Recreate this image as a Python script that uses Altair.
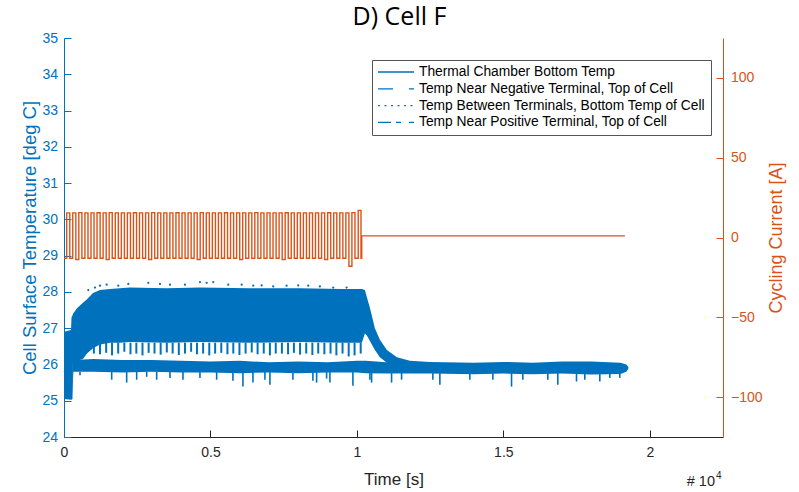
import altair as alt
import pandas as pd

BLUE = "#0072BD"
ORANGE = "#D95319"
DARK = "#262626"
FONT = "Liberation Sans"

# ---------------- data ----------------
# dense cycling band of the cell temperatures (upper / lower envelope)
band_t = [0, 239, 256, 290, 307, 444, 648, 785, 990, 1229, 1570, 1911, 2253, 3500,
          4642, 6348, 8055, 9500, 10171, 10273, 10341, 10444, 10614, 10785, 11024,
          11365, 11809, 12491]
band_hi = [26.9, 26.95, 27.3, 27.35, 27.4, 27.55, 27.7, 27.8, 27.97, 28.05, 28.08, 28.1,
           28.12, 28.1, 28.12, 28.1, 28.1, 28.08, 28.08, 28.05, 27.85, 27.56, 27.0,
           26.68, 26.4, 26.2, 26.1, 26.07]
band_lo = [25.05, 25.03, 25.03, 25.05, 26.1, 26.1, 26.15, 26.3, 26.45, 26.55, 26.6, 26.6,
           26.62, 26.6, 26.62, 26.6, 26.62, 26.6, 26.6, 26.85, 26.8, 26.65, 26.4, 26.2,
           26.05, 26.0, 26.0, 26.0]

# lower (chamber) trace envelope
low_t = [300, 1000, 2000, 3000, 4000, 5000, 6000, 7000, 8000, 9000, 10000, 10300,
         11000, 12500, 14000, 15000, 16000, 17000, 18000, 19000, 19200, 19270]
low_hi = [26.12, 26.15, 26.12, 26.12, 26.1, 26.08, 26.1, 26.06, 26.08, 26.06, 26.1,
          26.1, 26.06, 26.07, 26.05, 26.07, 26.05, 26.08, 26.08, 26.05, 26.0, 25.93]
low_lo = [25.8, 25.8, 25.78, 25.8, 25.78, 25.78, 25.76, 25.78, 25.76, 25.78, 25.78,
          25.76, 25.75, 25.75, 25.73, 25.75, 25.73, 25.75, 25.72, 25.74, 25.8, 25.88]

# teeth hanging under the band (one per cycle)
teeth_t = [820, 1020, 1230, 1440, 1640, 1850, 2060, 2270, 2470, 2680,
           2890, 3090, 3300, 3510, 3710, 3920, 4130, 4340, 4540, 4750,
           4960, 5160, 5370, 5580, 5780, 5990, 6200, 6410, 6610, 6820,
           7030, 7230, 7440, 7650, 7850, 8060, 8270, 8480, 8680, 8890,
           9100, 9300, 9510, 9720, 9920, 10130]
teeth_lo = [26.35, 26.30, 26.28, 26.32, 26.25, 26.30, 26.35, 26.28, 26.30, 26.25,
            26.32, 26.30, 26.27, 26.33, 26.30, 26.26, 26.30, 26.35, 26.28, 26.30,
            26.25, 26.30, 26.32, 26.28, 26.30, 26.26, 26.30, 26.33, 26.28, 26.30,
            26.25, 26.30, 26.30, 26.28, 26.32, 26.27, 26.30, 26.26, 26.30, 26.28,
            26.30, 26.25, 26.30, 26.22, 26.25, 26.30]
teeth_top = 26.6

# downward spikes of the chamber trace
spike_t = [546, 1628, 2140, 2481, 2823, 3164, 3618, 4062, 4642, 5212, 5768, 6109, 6451,
           6860, 7031, 7816, 8498, 8625, 8966, 9079, 9864, 10444, 10502, 11184, 11526,
           12594, 12833, 13857, 14642, 15280, 15666, 16519, 16860, 17498, 17782, 18294,
           18635, 18976]
spike_lo = [25.7, 25.58, 25.5, 25.58, 25.66, 25.58, 25.63, 25.58, 25.63, 25.58, 25.55,
            25.39, 25.5, 25.58, 25.44, 25.58, 25.55, 25.5, 25.61, 25.5, 25.41, 25.58,
            25.5, 25.5, 25.58, 25.58, 25.44, 25.58, 25.58, 25.39, 25.58, 25.58, 25.44,
            25.53, 25.58, 25.53, 25.63, 25.63]
spike_top = 25.8

# isolated samples just above the band
dots_t = [830, 1058, 1229, 1457, 1854, 2195, 2877, 3277, 3618, 4130, 4642, 4870, 5096,
          5607, 6065, 6461, 6748, 7143, 7600, 7997, 8338, 8737, 9191, 9649]
dots_v = [28.05, 28.12, 28.17, 28.2, 28.17, 28.22, 28.25, 28.22, 28.2, 28.2, 28.27,
          28.25, 28.27, 28.2, 28.2, 28.17, 28.18, 28.15, 28.17, 28.18, 28.17, 28.15,
          28.12, 28.12]

# mean path of each temperature series
series_names = ["Thermal Chamber Bottom Temp",
                "Temp Near Negative Terminal, Top of Cell",
                "Temp Between Terminals, Bottom Temp of Cell",
                "Temp Near Positive Terminal, Top of Cell"]
series_t = [0, 250, 320, 700, 1500, 3000, 5000, 7000, 9000, 10170, 10444, 10614, 10785,
            11024, 11365, 11809, 12500, 15000, 17500, 19250]
chamber = [25.1, 25.1, 25.95, 25.95, 25.95, 25.95, 25.93, 25.93, 25.92, 25.95, 25.95,
           25.93, 25.93, 25.92, 25.92, 25.92, 25.9, 25.9, 25.9, 25.9]
neg_term = [26.0, 26.2, 26.9, 27.3, 27.5, 27.5, 27.5, 27.5, 27.5, 27.5, 27.15, 26.75,
            26.45, 26.22, 26.1, 26.02, 25.95, 25.92, 25.92, 25.9]
between = [25.8, 26.0, 26.7, 27.1, 27.3, 27.3, 27.3, 27.3, 27.3, 27.2, 27.0, 26.65,
           26.4, 26.2, 26.08, 26.0, 25.93, 25.9, 25.9, 25.88]
pos_term = [25.9, 26.1, 26.8, 27.2, 27.4, 27.4, 27.4, 27.4, 27.4, 27.35, 27.1, 26.7,
            26.42, 26.21, 26.09, 26.01, 25.94, 25.91, 25.91, 25.89]

# cycling current: pulses (rise time, fall time, high level, low level after fall)
start_t, start_a = 0, -13.0
pulse_rise = [92, 299, 506, 714, 921, 1128, 1335, 1542, 1750, 1957,
              2164, 2371, 2578, 2786, 2993, 3200, 3407, 3614, 3822, 4029,
              4236, 4443, 4650, 4858, 5065, 5272, 5479, 5686, 5894, 6101,
              6308, 6515, 6722, 6930, 7137, 7344, 7551, 7758, 7966, 8173,
              8380, 8587, 8794, 9002, 9209, 9416, 9623, 9830, 10045]
pulse_fall = [197, 404, 611, 819, 1026, 1233, 1440, 1647, 1855, 2062,
              2269, 2476, 2683, 2891, 3098, 3305, 3512, 3719, 3927, 4134,
              4341, 4548, 4755, 4963, 5170, 5377, 5584, 5791, 5999, 6206,
              6413, 6620, 6827, 7035, 7242, 7449, 7656, 7863, 8071, 8278,
              8485, 8692, 8899, 9107, 9314, 9521, 9728, 9935, 10140]
pulse_high = [15.4, 15.4, 15.6, 15.4, 15.4, 15.5, 15.4, 15.6, 15.4, 15.4,
              15.4, 15.5, 15.4, 15.4, 15.6, 15.4, 15.4, 15.4, 15.5, 15.4,
              15.4, 15.4, 15.6, 15.4, 15.4, 15.4, 15.5, 15.4, 15.4, 15.4,
              15.4, 15.6, 15.4, 15.4, 15.4, 15.4, 15.5, 15.4, 15.4, 15.4,
              15.4, 15.4, 15.4, 15.5, 15.4, 15.4, 15.4, 15.6, 17.0]
pulse_low = [-13.0, -13.8, -13.0, -13.0, -13.0, -13.0, -13.8, -13.0, -13.0, -13.0,
             -13.0, -13.0, -13.0, -13.8, -13.0, -13.0, -13.0, -13.0, -13.0, -13.0,
             -13.0, -13.8, -13.0, -13.0, -13.0, -13.0, -13.0, -13.0, -13.8, -13.0,
             -13.0, -13.0, -13.0, -13.0, -13.0, -13.8, -13.0, -13.0, -13.0, -13.0,
             -13.0, -13.0, -13.8, -13.0, -13.0, -13.0, -18.0, -13.0, -13.0]
rest_t = [10165, 19150]
rest_a = [1.0, 1.0]

# ---------------- tables ----------------
band_df = pd.DataFrame({"t": band_t, "hi": band_hi, "lo": band_lo})
low_df = pd.DataFrame({"t": low_t, "hi": low_hi, "lo": low_lo})
teeth_df = pd.DataFrame({"t": teeth_t, "lo": teeth_lo, "hi": [teeth_top] * len(teeth_t)})
spike_df = pd.DataFrame({"t": spike_t, "lo": spike_lo, "hi": [spike_top] * len(spike_t)})
dots_df = pd.DataFrame({"t": dots_t, "v": dots_v})

rows = []
for name, vals in zip(series_names, [chamber, neg_term, between, pos_term]):
    for t, v in zip(series_t, vals):
        rows.append({"t": t, "temp": v, "series": name})
series_df = pd.DataFrame(rows)

cur_rows = [{"t": start_t, "a": start_a}]
for r, f, h, l in zip(pulse_rise, pulse_fall, pulse_high, pulse_low):
    cur_rows.append({"t": r, "a": h})
    cur_rows.append({"t": f, "a": l})
for t, a in zip(rest_t, rest_a):
    cur_rows.append({"t": t, "a": a})
cur_df = pd.DataFrame(cur_rows)

# ---------------- encodings ----------------
X_AXIS = alt.Axis(values=[0, 5000, 10000, 15000, 20000], labelExpr="datum.value / 10000",
                  title="Time [s]", titleX=329.5, titleY=47, titleBaseline="alphabetic",
                  titleAlign="center", titleFontSize=17, titleFont=FONT, titleColor=DARK,
                  titleFontWeight="normal", labelFontSize=14, labelFont=FONT,
                  labelColor=DARK, tickColor=DARK, domainColor=DARK,
                  tickSize={"expr": "-7"}, labelPadding=15, grid=False,
                  labelFlush=False, labelOverlap=False)
X_SCALE = alt.Scale(domain=[0, 22500], nice=False, zero=False)


def xenc():
    return alt.X("t:Q", scale=X_SCALE, axis=X_AXIS)


Y_AXIS = alt.Axis(orient="left", values=list(range(24, 36)),
                  title="Cell Surface Temperature [deg C]", titleAngle=270,
                  titleX=-29, titleY=199.5, titleAlign="center",
                  titleBaseline="alphabetic", titleFontSize=18.5, titleFont=FONT,
                  titleFontWeight="normal", titleColor=BLUE, labelFontSize=14,
                  labelFont=FONT, labelColor=BLUE, tickColor=BLUE, domainColor=BLUE,
                  tickSize={"expr": "-7"}, labelPadding=13.5, grid=False,
                  labelOverlap=False)
Y_SCALE = alt.Scale(domain=[24, 35], nice=False, zero=False)


def yenc(field):
    return alt.Y(field, type="quantitative", scale=Y_SCALE, axis=Y_AXIS)


band = alt.Chart(band_df).mark_area(color=BLUE, opacity=1).encode(
    x=xenc(), y=yenc("hi"), y2=alt.Y2("lo"))
lower = alt.Chart(low_df).mark_area(color=BLUE, opacity=1).encode(
    x=xenc(), y=yenc("hi"), y2=alt.Y2("lo"))
teeth = alt.Chart(teeth_df).mark_rule(color=BLUE, strokeWidth=2).encode(
    x=xenc(), y=yenc("hi"), y2=alt.Y2("lo"))
spikes = alt.Chart(spike_df).mark_rule(color=BLUE, strokeWidth=1.6).encode(
    x=xenc(), y=yenc("hi"), y2=alt.Y2("lo"))
dots = alt.Chart(dots_df).mark_point(color=BLUE, filled=True, size=5, opacity=1).encode(
    x=xenc(), y=yenc("v"))

lines = alt.Chart(series_df).mark_line(color=BLUE, strokeWidth=1).encode(
    x=xenc(), y=yenc("temp"),
    detail="series:N",
    strokeDash=alt.StrokeDash(
        "series:N",
        scale=alt.Scale(domain=series_names,
                        range=[[1, 0], [15, 16], [2, 4.5], [13, 5, 5, 8]]),
        legend=alt.Legend(orient="none", legendX=308, legendY=22, title=None,
                          symbolType="M-3,0H3", symbolSize=144,
                          symbolStrokeColor=BLUE, symbolStrokeWidth=1.3,
                          symbolOffset=12, labelOffset=16,
                          labelFont=FONT, labelFontSize=13.8, labelColor="black",
                          labelLimit=400, rowPadding=2.8, padding=5,
                          strokeColor="#555555", fillColor="white")))

exp_base = alt.Chart(pd.DataFrame({"s": ["# 10"]})).mark_text(
    font=FONT, fontSize=14.5, color=DARK, align="right", baseline="alphabetic").encode(
    text="s:N", x=alt.value(651), y=alt.value(448))
exp_pow = alt.Chart(pd.DataFrame({"s": ["4"]})).mark_text(
    font=FONT, fontSize=10, color=DARK, align="left", baseline="alphabetic").encode(
    text="s:N", x=alt.value(652), y=alt.value(441))

temp_layer = alt.layer(band, lower, teeth, spikes, dots, lines, exp_base, exp_pow)

R_AXIS = alt.Axis(orient="right", values=[-100, -50, 0, 50, 100],
                  title="Cycling Current [A]", titleAngle=270, titleX=58, titleY=199.5,
                  titleAlign="center", titleBaseline="alphabetic", titleFontSize=18,
                  titleFont=FONT, titleFontWeight="normal", titleColor=ORANGE,
                  labelFontSize=14, labelFont=FONT, labelColor=ORANGE,
                  tickColor=ORANGE, domainColor=ORANGE, tickSize={"expr": "-7"},
                  labelPadding=14.5, grid=False, labelOverlap=False)

current = alt.Chart(cur_df).mark_line(color=ORANGE, strokeWidth=1.4,
                                      interpolate="step-after").encode(
    x=xenc(),
    y=alt.Y("a:Q", scale=alt.Scale(domain=[-125, 125], nice=False), axis=R_AXIS))

chart = alt.layer(temp_layer, current).resolve_scale(y="independent").properties(
    width=659, height=399,
    autosize=alt.AutoSizeParams(type="none"),
    padding={"left": 64, "top": 38, "right": 76, "bottom": 55},
    title=alt.TitleParams("D) Cell F", font="Open Sans", fontSize=25,
                          fontWeight="normal", color="black", anchor="middle",
                          baseline="alphabetic", offset=11, dy=30, dx=6),
).configure_view(stroke=None)

chart.save("out.html", embed_options={"renderer": "svg", "actions": False})
